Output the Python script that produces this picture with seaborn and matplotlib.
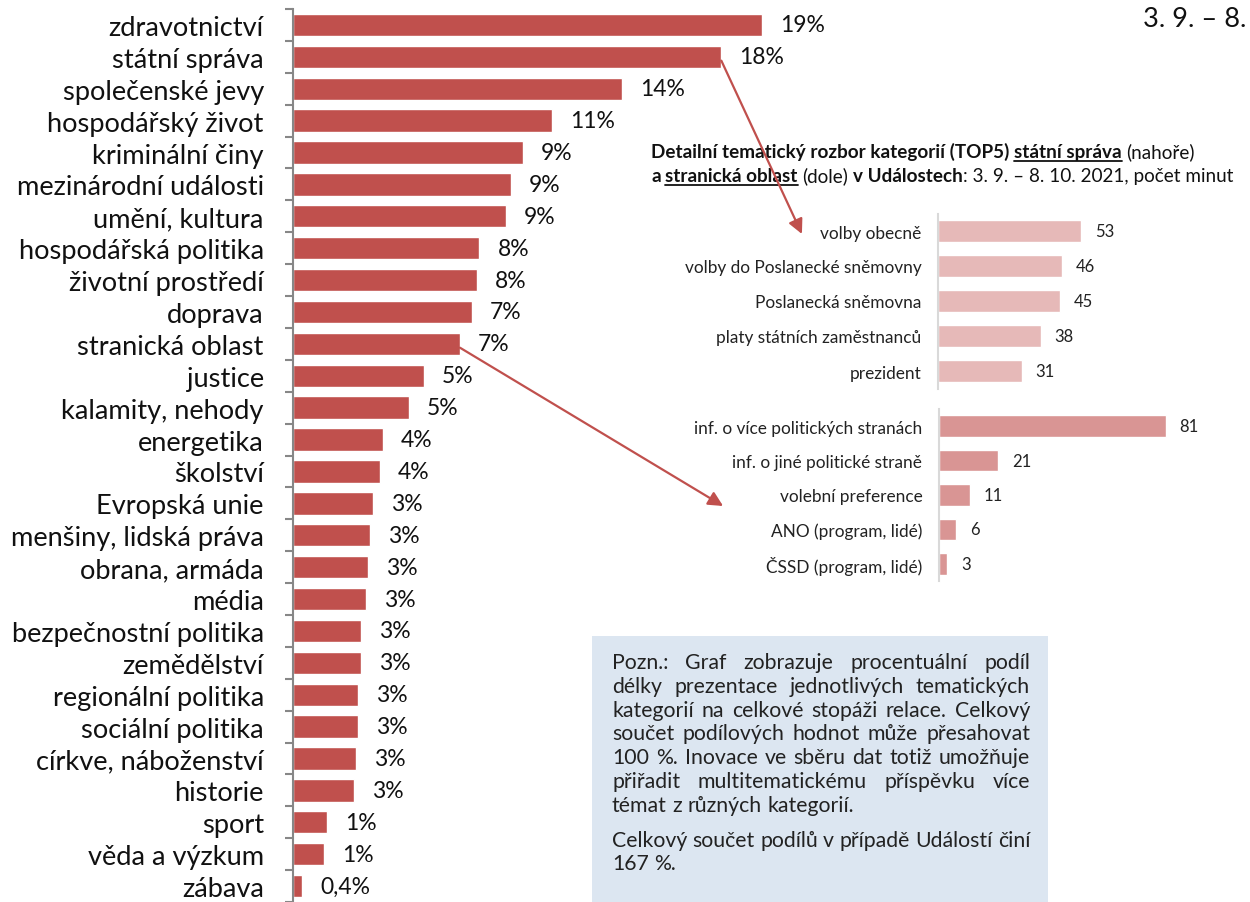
import matplotlib
matplotlib.use('Agg')
import numpy as np
import pandas as pd
import matplotlib.pyplot as plt
import seaborn as sns
from matplotlib.patches import Rectangle, ConnectionPatch
from matplotlib.lines import Line2D

# main chart: share of airtime per topic (%)
categories = ['zdravotnictví', 'státní správa', 'společenské jevy', 'hospodářský život',
              'kriminální činy', 'mezinárodní události', 'umění, kultura', 'hospodářská politika',
              'životní prostředí', 'doprava', 'stranická oblast', 'justice', 'kalamity, nehody',
              'energetika', 'školství', 'Evropská unie', 'menšiny, lidská práva', 'obrana, armáda',
              'média', 'bezpečnostní politika', 'zemědělství', 'regionální politika',
              'sociální politika', 'církve, náboženství', 'historie', 'sport', 'věda a výzkum',
              'zábava']
shares = [19.4, 17.7, 13.6, 10.7, 9.5, 9.0, 8.8, 7.7, 7.6, 7.4, 6.9, 5.4, 4.8, 3.7, 3.6,
          3.3, 3.2, 3.1, 3.0, 2.8, 2.8, 2.7, 2.7, 2.6, 2.5, 1.4, 1.3, 0.37]
share_labels = ['19%', '18%', '14%', '11%', '9%', '9%', '9%', '8%', '8%', '7%', '7%', '5%',
                '5%', '4%', '4%', '3%', '3%', '3%', '3%', '3%', '3%', '3%', '3%', '3%', '3%',
                '1%', '1%', '0,4%']

# TOP5 detail, minutes
state_topics = ['volby obecně', 'volby do Poslanecké sněmovny', 'Poslanecká sněmovna',
                'platy státních zaměstnanců', 'prezident']
state_minutes = [53, 46, 45, 38, 31]
party_topics = ['inf. o více politických stranách', 'inf. o jiné politické straně',
                'volební preference', 'ANO (program, lidé)', 'ČSSD (program, lidé)']
party_minutes = [81, 21, 11, 6, 3]

note_par1 = ['Pozn.: Graf zobrazuje procentuální podíl',
             'délky prezentace jednotlivých tematických',
             'kategorií na celkové stopáži relace. Celkový',
             'součet podílových hodnot může přesahovat',
             '100 %. Inovace ve sběru dat totiž umožňuje',
             'přiřadit multitematickému příspěvku více',
             'témat z různých kategorií.']
note_par2 = ['Celkový součet podílů v případě Událostí činí',
             '167 %.']

W, H = 1250, 903
RED = '#C0504D'


def fx(px):
    return px / W


def fy(py):
    return 1 - py / H


def inset(fig, rect, labels, values, color, xmax):
    ax = fig.add_axes(rect)
    ax.patch.set_visible(False)
    df = pd.DataFrame({'tema': labels, 'min': values})
    sns.barplot(data=df, x='min', y='tema', orient='h', color=color, saturation=1,
                width=0.63, ax=ax)
    ax.set_xlim(0, xmax)
    ax.set_ylim(len(labels) - 0.5, -0.5)
    ax.set_xlabel('')
    ax.set_ylabel('')
    ax.set_xticks([])
    ax.tick_params(axis='y', length=0, pad=12, labelsize=12.4, labelcolor='#222222')
    for s in ['top', 'right', 'bottom']:
        ax.spines[s].set_visible(False)
    ax.spines['left'].set_color('#D9D9D9')
    ax.spines['left'].set_linewidth(1.5)
    for i, v in enumerate(values):
        ax.annotate(str(v), (v, i), xytext=(10, 0), textcoords='offset points',
                    va='center', ha='left', fontsize=12, color='#222222')
    return ax


def space_width(fig, renderer, size, weight='normal'):
    probe = fig.text(0, 0, 'x x', fontsize=size, fontweight=weight)
    w2 = probe.get_window_extent(renderer).width
    probe.set_text('xx')
    w1 = probe.get_window_extent(renderer).width
    probe.remove()
    return w2 - w1


def text_runs(fig, renderer, x, y, runs, size):
    # draws consecutive pieces of text with their own weight / underline
    space = space_width(fig, renderer, size, 'bold')
    cx = x * W
    for txt, bold, under in runs:
        if txt.startswith(' '):
            cx += space
        core = txt.strip()
        t = fig.text(cx / W, y, core, fontsize=size, va='baseline', ha='left',
                     fontweight='bold' if bold else 'normal', color='#111111')
        w = t.get_window_extent(renderer).width
        if under:
            ly = y - 3.5 / H
            fig.add_artist(Line2D([cx / W, (cx + w) / W], [ly, ly], color='#111111', lw=1.3))
        cx += w
        if txt.endswith(' '):
            cx += space


def justified(fig, renderer, x0, x1, y, line, size, justify):
    words = line.split()
    ts = [fig.text(0, y, w, fontsize=size, va='baseline', ha='left', color='#222222')
          for w in words]
    widths = [t.get_window_extent(renderer).width for t in ts]
    space = space_width(fig, renderer, size)
    if justify and len(words) > 1:
        gap = ((x1 - x0) * W - sum(widths)) / (len(words) - 1)
    else:
        gap = space
    cx = x0 * W
    for t, w in zip(ts, widths):
        t.set_x(cx / W)
        cx += w + gap


def main():
    sns.set_theme(style='white')
    plt.rcParams['font.family'] = ['Lato', 'DejaVu Sans']

    fig = plt.figure(figsize=(12.5, 9.03), dpi=100)
    renderer = fig.canvas.get_renderer()

    # note box (behind everything)
    fig.add_artist(Rectangle((fx(592), fy(905)), 456 / W, 268 / H,
                             transform=fig.transFigure, facecolor='#DCE6F1',
                             edgecolor='none', zorder=-1))

    # main horizontal bar chart
    n = len(categories)
    ax = fig.add_axes([fx(293), fy(903), 484 / W, 893 / H])
    ax.patch.set_visible(False)
    df = pd.DataFrame({'kategorie': categories, 'podil': shares})
    sns.barplot(data=df, x='podil', y='kategorie', orient='h', color=RED, saturation=1,
                width=0.7, ax=ax)
    ax.set_xlim(0, 20)
    ax.set_ylim(n - 0.5, -0.5)
    ax.set_xlabel('')
    ax.set_ylabel('')
    ax.set_xticks([])
    ax.set_yticks(np.arange(-0.5, n, 1), minor=True)
    ax.tick_params(axis='y', which='major', length=0, pad=21, labelsize=19.6,
                   labelcolor='#111111')
    ax.tick_params(axis='y', which='minor', length=6, width=1.5, color='#878787',
                   direction='out', left=True)
    for s in ['top', 'right', 'bottom']:
        ax.spines[s].set_visible(False)
    ax.spines['left'].set_color('#878787')
    ax.spines['left'].set_linewidth(1.5)
    for i, (v, lab) in enumerate(zip(shares, share_labels)):
        ax.annotate(lab, (v, i), xytext=(13, 0), textcoords='offset points',
                    va='center', ha='left', fontsize=16.5, color='#111111')

    # the two detail charts
    ax1 = inset(fig, [fx(938), fy(389.5), 270 / W, 175 / H], state_topics, state_minutes,
                '#E6B9B8', 100)
    ax2 = inset(fig, [fx(939), fy(582), 280 / W, 172 / H], party_topics, party_minutes,
                '#D99594', 100)

    # arrows from the main bars to the detail charts
    for idx, target, (tx, ty) in [(1, ax1, (-0.504, 0.883)), (10, ax2, (-0.771, 0.436))]:
        con = ConnectionPatch(xyA=(shares[idx], idx + 0.12), coordsA=ax.transData,
                              xyB=(tx, ty), coordsB=target.transAxes,
                              arrowstyle='-|>', mutation_scale=22, lw=1.6,
                              color=RED, zorder=5)
        fig.add_artist(con)

    # title of the detail charts
    text_runs(fig, renderer, fx(651), fy(158),
              [('Detailní tematický rozbor kategorií (TOP5) ', True, False),
               ('státní správa', True, True),
               (' (nahoře)', False, False)], 13.6)
    text_runs(fig, renderer, fx(651), fy(182),
              [('a ', True, False),
               ('stranická oblast', True, True),
               (' (dole) ', False, False),
               ('v Událostech', True, False),
               (': 3. 9. – 8. 10. 2021, počet minut', False, False)], 13.6)

    # period in the top right corner (only the visible part of it)
    fig.text(fx(1143), fy(27), '3. 9. – 8.', fontsize=19.5, va='baseline',
             ha='left', color='#111111')

    # note text, justified like in the source
    y = 669
    for k, line in enumerate(note_par1):
        justified(fig, renderer, fx(612), fx(1030), fy(y), line, 15.3,
                  k < len(note_par1) - 1)
        y += 23.8
    y += 11
    for k, line in enumerate(note_par2):
        justified(fig, renderer, fx(612), fx(1030), fy(y), line, 15.3,
                  k < len(note_par2) - 1)
        y += 23.8

    fig.savefig('out.png', dpi=100)
    plt.close(fig)


if __name__ == '__main__':
    main()
